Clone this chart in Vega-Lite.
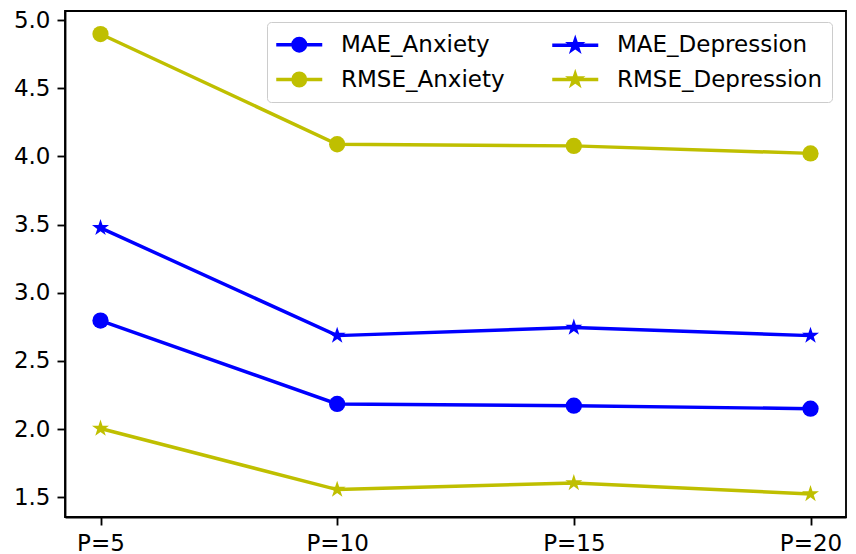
{
  "$schema": "https://vega.github.io/schema/vega-lite/v6.json",
  "width": 781,
  "height": 506,
  "autosize": {"type": "none"},
  "padding": {"left": 65, "top": 11, "right": 10, "bottom": 37},
  "background": "white",
  "config": {
    "view": {"stroke": "black", "strokeWidth": 1.85, "fill": "white"},
    "font": "DejaVu Sans",
    "axis": {
      "labelFont": "DejaVu Sans",
      "labelFontSize": 23,
      "labelColor": "black",
      "tickColor": "black",
      "tickWidth": 1.85,
      "tickSize": 8,
      "domainColor": "black",
      "domainWidth": 1.85,
      "grid": false,
      "title": null,
      "labelPadding": 7
    }
  },
  "data": {
    "values": [
      {"P": "P=5", "series": "MAE_Anxiety", "value": 2.796},
      {"P": "P=10", "series": "MAE_Anxiety", "value": 2.185},
      {"P": "P=15", "series": "MAE_Anxiety", "value": 2.172},
      {"P": "P=20", "series": "MAE_Anxiety", "value": 2.150},
      {"P": "P=5", "series": "RMSE_Anxiety", "value": 4.897},
      {"P": "P=10", "series": "RMSE_Anxiety", "value": 4.089},
      {"P": "P=15", "series": "RMSE_Anxiety", "value": 4.077},
      {"P": "P=20", "series": "RMSE_Anxiety", "value": 4.022},
      {"P": "P=5", "series": "MAE_Depression", "value": 3.476},
      {"P": "P=10", "series": "MAE_Depression", "value": 2.686},
      {"P": "P=15", "series": "MAE_Depression", "value": 2.745},
      {"P": "P=20", "series": "MAE_Depression", "value": 2.686},
      {"P": "P=5", "series": "RMSE_Depression", "value": 2.005},
      {"P": "P=10", "series": "RMSE_Depression", "value": 1.557},
      {"P": "P=15", "series": "RMSE_Depression", "value": 1.606},
      {"P": "P=20", "series": "RMSE_Depression", "value": 1.525}
    ]
  },
  "encoding": {
    "x": {
      "field": "P",
      "type": "ordinal",
      "sort": ["P=5", "P=10", "P=15", "P=20"],
      "scale": {"type": "point", "padding": 0.15},
      "axis": {"labelAngle": 0, "title": null}
    },
    "y": {
      "field": "value",
      "type": "quantitative",
      "scale": {"domain": [1.356, 5.066], "nice": false, "zero": false},
      "axis": {"values": [1.5, 2.0, 2.5, 3.0, 3.5, 4.0, 4.5, 5.0], "format": ".1f", "title": null}
    }
  },
  "layer": [
    {
      "transform": [{"filter": "indexof(datum.series, 'MAE') == 0"}],
      "mark": {"type": "line", "strokeWidth": 3.46, "color": "#0000ff"},
      "encoding": {"detail": {"field": "series", "type": "nominal"}}
    },
    {
      "transform": [{"filter": "indexof(datum.series, 'RMSE') == 0"}],
      "mark": {"type": "line", "strokeWidth": 3.46, "color": "#bfbf00"},
      "encoding": {"detail": {"field": "series", "type": "nominal"}}
    },
    {
      "transform": [{"filter": "datum.series == 'MAE_Anxiety'"}],
      "mark": {"type": "point", "filled": true, "opacity": 1, "size": 265, "shape": "circle", "color": "#0000ff"}
    },
    {
      "transform": [{"filter": "datum.series == 'RMSE_Anxiety'"}],
      "mark": {"type": "point", "filled": true, "opacity": 1, "size": 265, "shape": "circle", "color": "#bfbf00"}
    },
    {
      "transform": [{"filter": "datum.series == 'MAE_Depression'"}],
      "mark": {"type": "point", "filled": true, "opacity": 1, "size": 320, "color": "#0000ff",
        "shape": "M0,-1L0.2245,-0.309L0.951,-0.309L0.363,0.118L0.588,0.809L0,0.382L-0.588,0.809L-0.363,0.118L-0.951,-0.309L-0.2245,-0.309Z"}
    },
    {
      "transform": [{"filter": "datum.series == 'RMSE_Depression'"}],
      "mark": {"type": "point", "filled": true, "opacity": 1, "size": 320, "color": "#bfbf00",
        "shape": "M0,-1L0.2245,-0.309L0.951,-0.309L0.363,0.118L0.588,0.809L0,0.382L-0.588,0.809L-0.363,0.118L-0.951,-0.309L-0.2245,-0.309Z"}
    },
    {
      "transform": [{"filter": "datum.value < 0"}],
      "mark": {"type": "point", "filled": true, "opacity": 1, "strokeWidth": 3.46},
      "encoding": {
        "color": {
          "field": "series",
          "type": "nominal",
          "scale": {
            "domain": ["MAE_Anxiety", "RMSE_Anxiety", "MAE_Depression", "RMSE_Depression"],
            "range": ["#0000ff", "#bfbf00", "#0000ff", "#bfbf00"]
          },
          "legend": {
            "title": null,
            "orient": "none",
            "legendX": 202,
            "legendY": 11,
            "columns": 2,
            "columnPadding": 40,
            "rowPadding": 8,
            "padding": 9,
            "labelFont": "DejaVu Sans",
            "labelFontSize": 23,
            "labelColor": "black",
            "labelLimit": 400,
            "labelOffset": 38,
            "symbolSize": 529,
            "symbolStrokeWidth": 3.46,
            "symbolOpacity": 1,
            "strokeColor": "#cccccc",
            "fillColor": "rgba(255,255,255,0.8)",
            "cornerRadius": 4
          }
        },
        "stroke": {
          "field": "series",
          "type": "nominal",
          "scale": {
            "domain": ["MAE_Anxiety", "RMSE_Anxiety", "MAE_Depression", "RMSE_Depression"],
            "range": ["#0000ff", "#bfbf00", "#0000ff", "#bfbf00"]
          }
        },
        "shape": {
          "field": "series",
          "type": "nominal",
          "scale": {
            "domain": ["MAE_Anxiety", "RMSE_Anxiety", "MAE_Depression", "RMSE_Depression"],
            "range": [
              "M-1.152,0L2.848,0M1.393,0A0.545,0.545,0,1,1,0.303,0A0.545,0.545,0,1,1,1.393,0Z",
              "M-1.152,0L2.848,0M1.393,0A0.545,0.545,0,1,1,0.303,0A0.545,0.545,0,1,1,1.393,0Z",
              "M-1.152,0L2.848,0M0.848,-0.45L0.949,-0.139L1.276,-0.139L1.012,0.053L1.113,0.364L0.848,0.172L0.583,0.364L0.684,0.053L0.42,-0.139L0.747,-0.139Z",
              "M-1.152,0L2.848,0M0.848,-0.45L0.949,-0.139L1.276,-0.139L1.012,0.053L1.113,0.364L0.848,0.172L0.583,0.364L0.684,0.053L0.42,-0.139L0.747,-0.139Z"
            ]
          }
        }
      }
    }
  ]
}
